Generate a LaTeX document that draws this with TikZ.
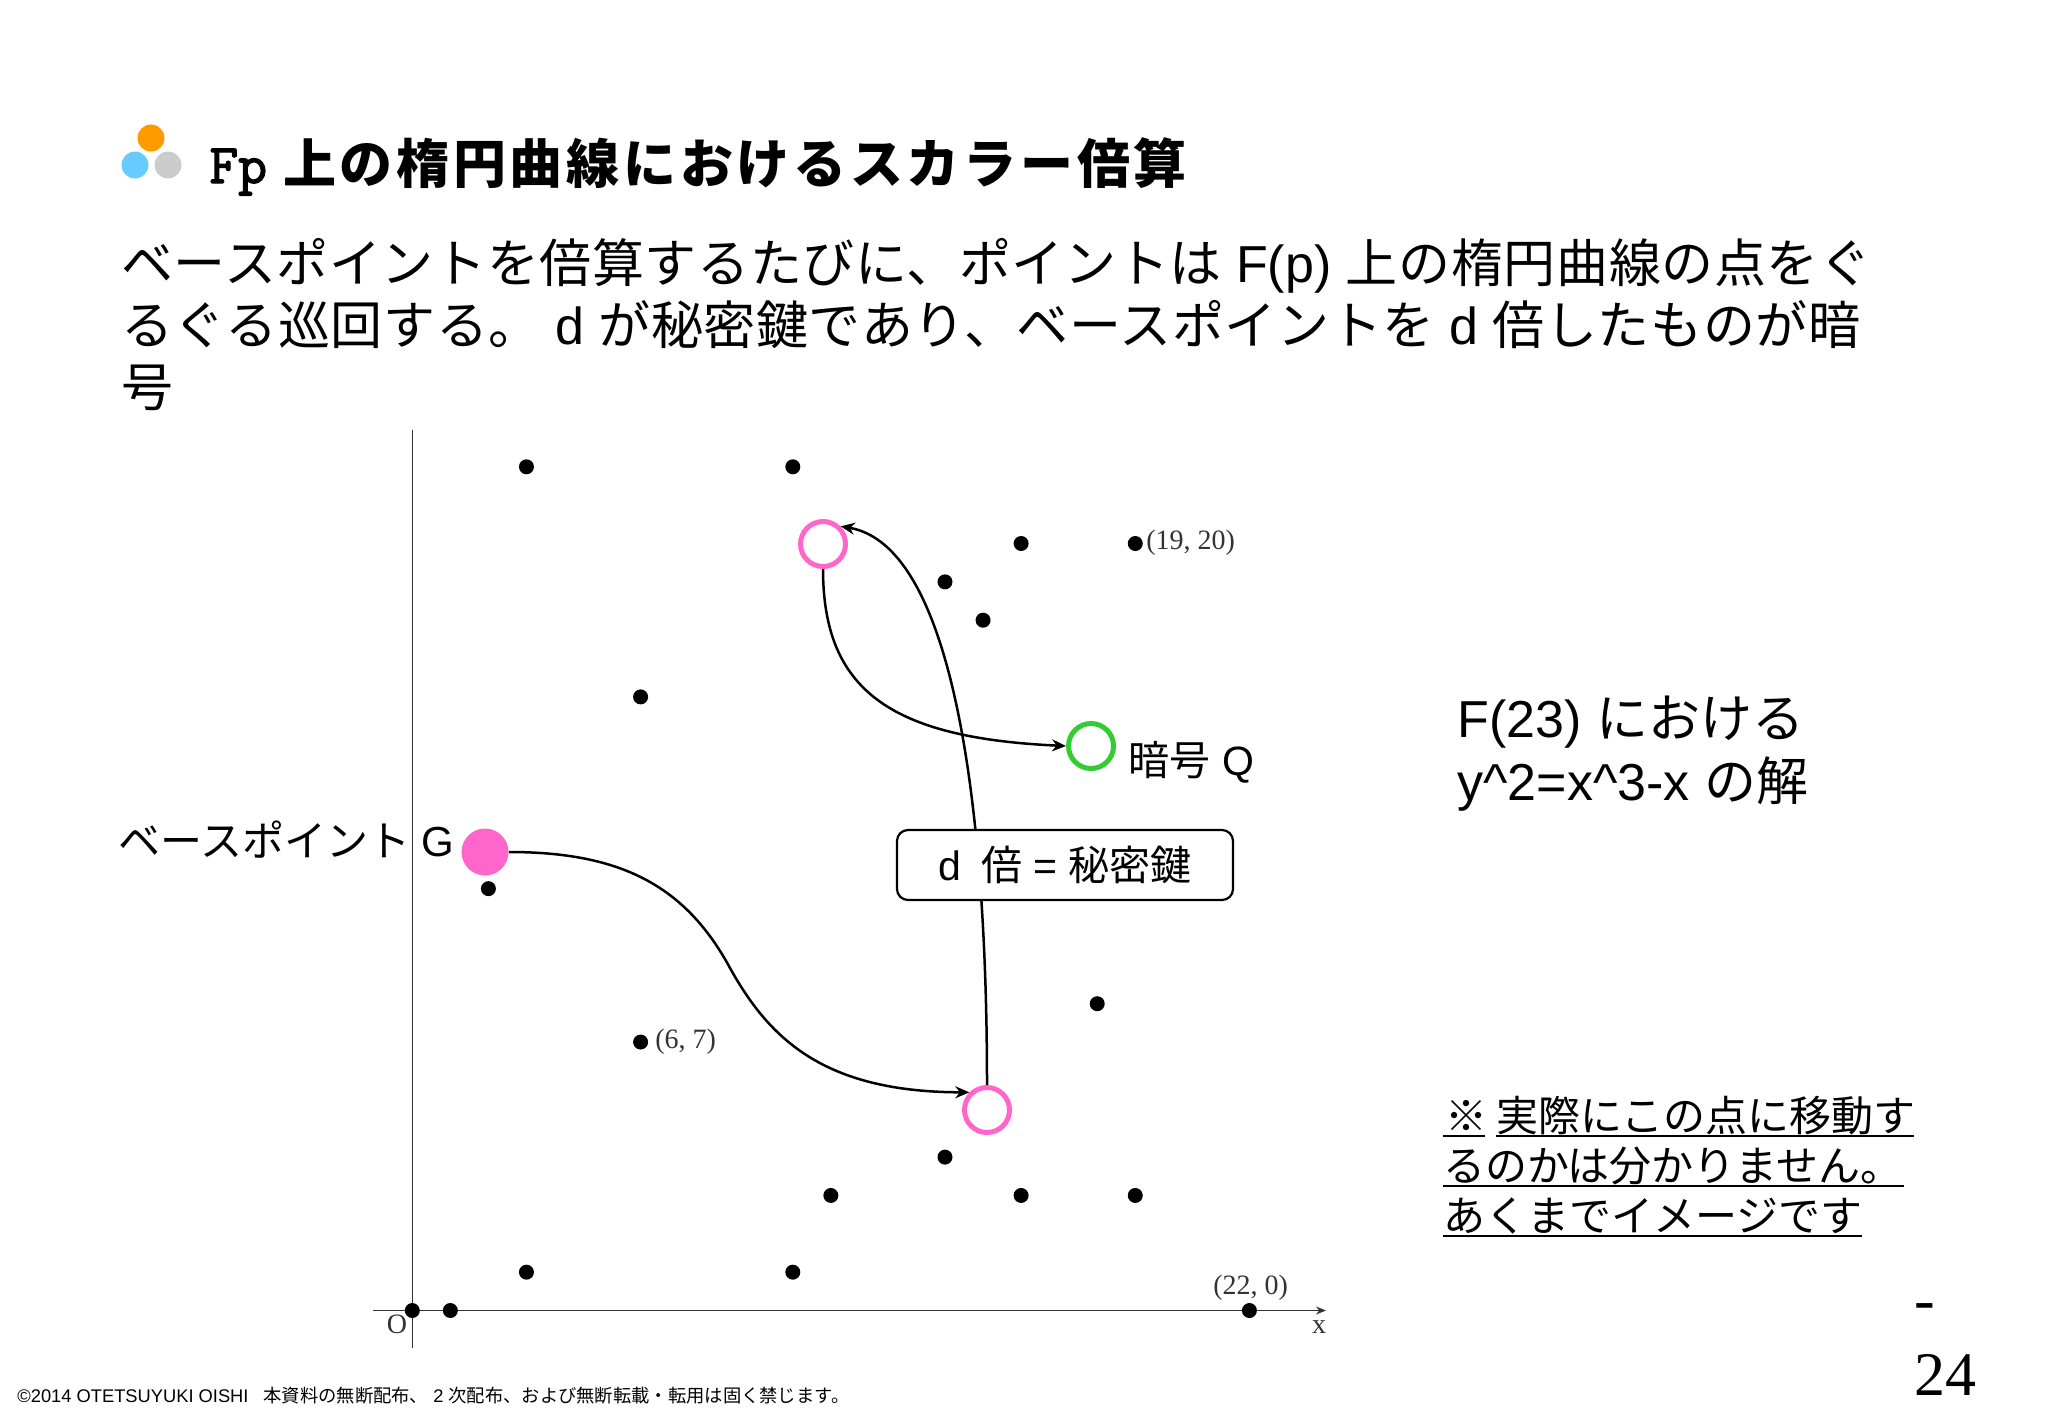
\documentclass[tikz,border=0pt]{standalone}
\usepackage{fontspec}
\setmainfont{Noto Sans CJK JP}
\newfontfamily\lat{Liberation Sans}
\newfontfamily\ser{Liberation Serif}
\newfontfamily\slab[FakeBold=2.5]{Latin Modern Mono}
\newfontfamily\headfont[LetterSpace=7]{Noto Sans CJK JP}
\newfontfamily\bodyfont[LetterSpace=1.2]{Noto Sans CJK JP}
\newcommand{\fs}[1]{\fontsize{#1}{#1}\selectfont}
\usetikzlibrary{arrows.meta}
\definecolor{ringpink}{HTML}{FF66CC}
\definecolor{ringgreen}{HTML}{33CC33}
\definecolor{logoorange}{HTML}{FF9900}
\definecolor{logoblue}{HTML}{66CCFF}
\definecolor{logogrey}{HTML}{CCCCCC}
\definecolor{plotgrey}{HTML}{333333}
\tikzset{
  txt/.style={inner sep=0pt,anchor=base west},
  body/.style={txt,font=\bodyfont\fs{26}},
  lbl/.style={txt,font=\fs{20.5}},
  plotlbl/.style={inner sep=0pt,text=plotgrey,font=\ser\fs{14}},
  ptdot/.style={circle,fill=black,inner sep=0pt,minimum size=7.5pt},
  ring/.style={circle,draw=#1,line width=2.5pt,fill=white,inner sep=0pt,minimum size=22.5pt},
  logodot/.style={circle,fill=#1,inner sep=0pt,minimum size=13.5pt},
  arrow/.style={-{Stealth[length=7pt,width=6pt]},line width=1.25pt},
  noteline/.style={line width=1.3pt},
  axis/.style={plotgrey,line width=.8pt}
}
\begin{document}
\begin{tikzpicture}[x=.5pt,y=-.5pt]
  \useasboundingbox (0,0) rectangle (2048,1418);

  % Title
  \node[logodot=logoorange] (logoa) at (151,138) {};
  \node[logodot=logoblue] (logob) at (135,165) {};
  \node[logodot=logogrey] (logoc) at (168,165) {};
  \node[txt,font=\fs{26.5}] (head) at (209,183) {{\slab\fs{28}Fp}\hspace{8pt}{\headfont\bfseries 上の楕円曲線におけるスカラー倍算}};

  % Text
  \node[body] (lineone) at (121,282) {ベースポイントを倍算するたびに、ポイントは{\lat\ F(p) }上の楕円曲線の点をぐ};
  \node[body] (linetwo) at (121,344) {るぐる巡回する。{\lat\ d }が秘密鍵であり、ベースポイントを{\lat\ d }倍したものが暗};
  \node[body] (linethree) at (121,406) {号};

  % Axes
  \coordinate (xstart) at (373,1310.5);
  \coordinate (xend) at (1326,1310.5);
  \coordinate (ystart) at (412.3,1348);
  \coordinate (yend) at (412.3,430);
  \draw[axis] (ystart) -- (yend);
  \draw[axis,-{Stealth[length=5pt,width=4pt]}] (xstart) -- (xend);
  \node[plotlbl] (orig) at (397,1324) {O};
  \node[plotlbl] (xlbl) at (1319,1327) {x};

  % Points
  \foreach \u/\v in {3/22,10/22,16/20,19/20,14/19,15/18,6/16,2/11,18/8,6/7,14/4,11/3,16/3,19/3,3/1,10/1,0/0,1/0,22/0}
    \node[ptdot] (p\u-\v) at ({412.3+38.05*\u},{1310.5-38.35*\v}) {};
  \node[plotlbl,anchor=west] (lblp) at (1146,543) {(19, 20)};
  \node[plotlbl,anchor=west] (lblq) at (655,1042) {(6, 7)};
  \node[plotlbl,anchor=west] (lblr) at (1213,1288) {(22, 0)};

  % Base point and rings
  \node[circle,fill=ringpink,inner sep=0pt,minimum size=23.5pt] (base) at (485,852) {};
  \node[ring=ringpink] (mult) at (987,1110) {};
  \node[ring=ringpink] (next) at (823,544) {};
  \node[ring=ringgreen] (cipher) at (1091,746) {};
  \node[lbl,font=\fs{21}] (baselbl) at (118,856) {ベースポイント{\lat\ G}};
  \node[lbl] (cipherlbl) at (1128.5,775) {暗号{\lat\ Q}};

  % Arrows
  \draw[arrow] (base.east) .. controls (620,852) and (685,885) .. (730,968)
    .. controls (770,1040) and (825,1092) .. (mult.135);
  \draw[arrow] (mult.north) .. controls (987,800) and (952,545) .. (next.45);
  \draw[arrow] (next.south) .. controls (823,690) and (890,738) .. (cipher.west);

  % Key box
  \node[draw=black,line width=1.1pt,fill=white,rounded corners=5.5pt,inner sep=0pt,
    minimum width=168pt,minimum height=35pt,font=\fs{20.5}] (keybox) at (1065,865)
    {{\lat d}\hspace{10pt}倍{\lat\ = }秘密鍵};

  % Side text
  \node[txt,font=\fs{26}] (fa) at (1457,737) {{\lat F(23) }における};
  \node[txt,font=\fs{26}] (fb) at (1457,800) {{\lat y\^{}2=x\^{}3-x }の解};

  \node[lbl,font=\fs{21}] (notea) at (1445,1131) {※\hspace{4.5pt}実際にこの点に移動す};
  \node[lbl,font=\fs{21}] (noteb) at (1443,1181) {るのかは分かりません。};
  \node[lbl,font=\fs{21}] (notec) at (1443,1231) {あくまでイメージです};
  \draw[noteline] (1443,1136) -- (1485,1136);
  \draw[noteline] (1496,1136) -- (1914,1136);
  \draw[noteline] (1443,1186) -- (1904,1186);
  \draw[noteline] (1443,1236) -- (1862,1236);

  % Page number and footer
  \node[txt,font=\ser\fs{31}] (dash) at (1914,1320) {-};
  \node[txt,font=\ser\fs{31}] (page) at (1914,1395) {24};
  \node[txt,font=\fs{9.15}] (foot) at (17,1402) {{\lat ©2014 OTETSUYUKI OISHI}\hspace{7.5pt}本資料の無断配布、{\lat\ 2 }次配布、および無断転載・転用は固く禁じます。};
\end{tikzpicture}
\end{document}
